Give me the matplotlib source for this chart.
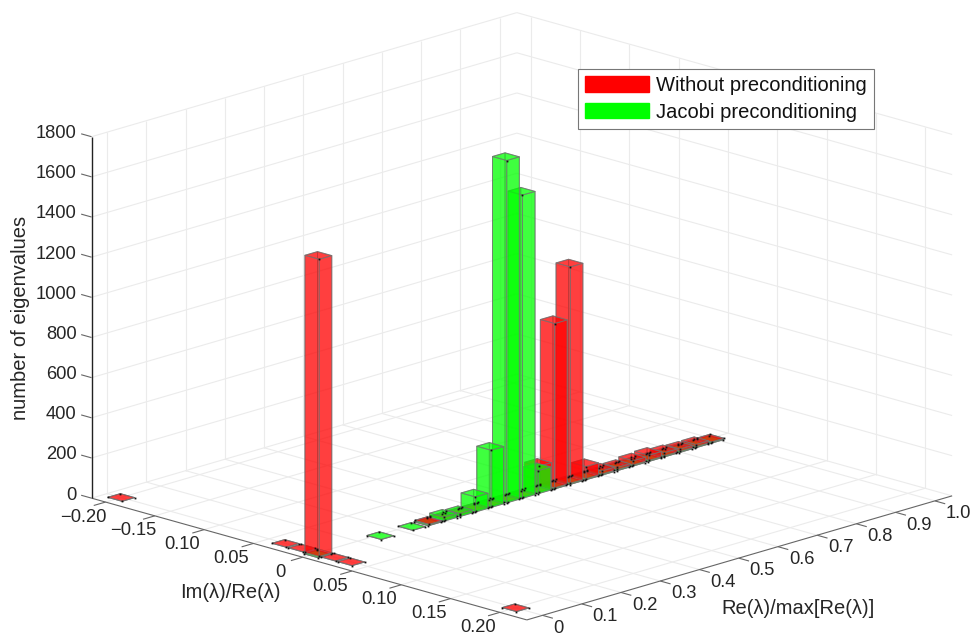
import matplotlib
matplotlib.use("Agg")
import matplotlib.pyplot as plt
from matplotlib.patches import Patch
from mpl_toolkits.mplot3d import proj3d

plt.rcParams["font.family"] = ["Liberation Sans", "DejaVu Sans"]

# histogram bins: Re(lambda)/max, Im(lambda)/Re(lambda), count
red_re = [0.0, 0.0, 0.0, 0.0, 0.0, 0.0, 0.0,
          0.28, 0.32, 0.36, 0.40, 0.44, 0.48, 0.52, 0.56, 0.60, 0.64, 0.68,
          0.72, 0.76, 0.80, 0.84, 0.88, 0.92, 0.96, 1.0]
red_im = [-0.2, -0.0333, -0.0167, 0, 0.0167, 0.0333, 0.2,
          0, 0, 0, 0, 0, 0, 0, 0, 0, 0, 0, 0, 0, 0, 0, 0, 0, 0, 0]
red_n = [0, 0, 0, 1480, 0, 0, 0,
         0, 0, 0, 0, 0, 0, 0, 130, 818, 1077, 60,
         15, 10, 20, 25, 15, 10, 10, 0]

green_re = [-0.007, 0.153, 0.233, 0.273, 0.313, 0.353, 0.393, 0.433, 0.473, 0.513, 0.553,
            0.593, 0.633, 0.673, 0.713, 0.753, 0.793, 0.833, 0.873, 0.913, 0.953, 0.993]
green_im = [0.002, 0.002, 0.002, 0.002, 0.002, 0.002, 0.002, 0.002, 0.002, 0.002, 0.002,
            0.002, 0.002, 0.002, 0.002, 0.002, 0.002, 0.002, 0.002, 0.002, 0.002, 0.002]
green_n = [0, 0, 0, 0, 20, 15, 75, 285, 1705, 1510, 115,
           0, 0, 0, 0, 0, 0, 0, 0, 0, 0, 0]

re_ticks = [0, 0.1, 0.2, 0.3, 0.4, 0.5, 0.6, 0.7, 0.8, 0.9, 1.0]
re_labels = ["0", "0.1", "0.2", "0.3", "0.4", "0.5", "0.6", "0.7", "0.8", "0.9", "1.0"]
im_ticks = [-0.20, -0.15, -0.10, -0.05, 0, 0.05, 0.10, 0.15, 0.20]
im_labels = ["\u22120.20", "\u22120.15", "0.10", "0.05", "0", "0.05", "0.10", "0.15", "0.20"]
z_ticks = [0, 200, 400, 600, 800, 1000, 1200, 1400, 1600, 1800]

XMIN, XMAX = -0.040, 1.044
YMIN, YMAX = -0.2142, 0.2274
ZMAX = 1800
BAR_X, BAR_Y = 0.032, 0.0145

GRID = "#ebebeb"
AXIS = "#666666"
TEXT = "#262626"
FS = 13.2

fig = plt.figure(figsize=(9.71, 6.33), dpi=100)
side = 912.2
ax = fig.add_axes([53.4 / 971, -151.7 / 633, side / 971, side / 633], projection="3d")
ax.set_proj_type("ortho")
ax.set_box_aspect((607.6, 609, 377))
ax.view_init(elev=16.6, azim=-135.6)
ax.computed_zorder = False
ax.set_axis_off()


def line(xs, ys, zs, color=GRID, lw=0.8, zorder=1):
    ax.plot(xs, ys, zs, color=color, lw=lw, zorder=zorder, solid_capstyle="butt")


def label(x, y, z, s, ha):
    px, py, _ = proj3d.proj_transform(x, y, z, ax.get_proj())
    ax.text2D(px, py, s, transform=ax.transData, ha=ha, va="center", fontsize=FS, color=TEXT)


# walls and floor grid
for z in z_ticks:
    line([XMIN, XMAX], [YMIN, YMIN], [z, z])
    line([XMAX, XMAX], [YMIN, YMAX], [z, z])
for x in re_ticks:
    line([x, x], [YMIN, YMIN], [0, ZMAX])
    line([x, x], [YMIN, YMAX], [0, 0])
for y in im_ticks:
    line([XMAX, XMAX], [y, y], [0, ZMAX])
    line([XMIN, XMAX], [y, y], [0, 0])

# axis lines and ticks
line([XMIN, XMAX], [YMAX, YMAX], [0, 0], AXIS, zorder=1.5)
line([XMIN, XMIN], [YMIN, YMAX], [0, 0], AXIS, zorder=1.5)
line([XMIN, XMIN], [YMIN, YMIN], [0, ZMAX], "#222222", 1.0, zorder=1.5)
for x in re_ticks:
    line([x, x], [YMAX, YMAX + 0.0105], [0, 0], AXIS, zorder=1.5)
for y in im_ticks:
    line([XMIN, XMIN - 0.03], [y, y], [0, 0], AXIS, zorder=1.5)
for z in z_ticks:
    line([XMIN, XMIN], [YMIN, YMIN - 0.0105], [z, z], AXIS, zorder=1.5)

# bars, painted from the back to the front
bars = [(x, y, n, (1, 0, 0, 0.5), 0.5) for x, y, n in zip(red_re, red_im, red_n)]
bars += [(x, y, n, (0, 1, 0, 0.5), 1 if n > 0 else 0) for x, y, n in zip(green_re, green_im, green_n)]
bars.sort(key=lambda b: (-round(b[0], 1) if b[0] < 0.02 else -round(b[0] / 0.04), round(b[1], 2), b[4]))

order = 2.0
dots_x, dots_y, dots_z = [], [], []
for x, y, n, color, _ in bars:
    ax.bar3d(x - BAR_X / 2, y - BAR_Y / 2, 0, BAR_X, BAR_Y, n, color=color, shade=False,
             edgecolor=(0.45, 0.45, 0.45, 0.7), linewidth=0.7, zorder=order)
    order += 0.01
    dots_x += [x - BAR_X / 2, x + BAR_X / 2, x - BAR_X / 2, x + BAR_X / 2]
    dots_y += [y - BAR_Y / 2, y - BAR_Y / 2, y + BAR_Y / 2, y + BAR_Y / 2]
    dots_z += [0, 0, 0, 0]
    if n > 0:
        dots_x.append(x - BAR_X / 2)
        dots_y.append(y + BAR_Y / 2)
        dots_z.append(n)
ax.plot(dots_x, dots_y, dots_z, ls="none", marker="s", ms=1.3, mew=0, color="#111111", zorder=4)

ax.set_xlim(XMIN, XMAX)
ax.set_ylim(YMAX, YMIN)
ax.set_zlim(0, ZMAX)
ax.set_xticks([])
ax.set_yticks([])
ax.set_zticks([])

# tick labels placed through the projection
for x, s in zip(re_ticks, re_labels):
    label(x, YMAX + 0.011, -48, s, "left")
for y, s in zip(im_ticks, im_labels):
    label(XMIN - 0.056, y, -43, s, "center")
for z in z_ticks:
    label(XMIN, YMIN - 0.015, z - 5, str(z), "right")

handles = [Patch(facecolor="#ff0000", edgecolor="#ff0000"), Patch(facecolor="#00ff00", edgecolor="#00ff00")]
leg = ax.legend(handles, ["Without preconditioning", "Jacobi preconditioning"],
                loc="upper left", bbox_to_anchor=(578 / 971, 1 - 69 / 633),
                bbox_transform=fig.transFigure, borderaxespad=0, fontsize=14.5,
                handlelength=3.18, handleheight=0.8, handletextpad=0.35, labelspacing=0.38,
                borderpad=0.35, fancybox=False, framealpha=1, edgecolor="#777777", labelcolor="#111111")
leg.get_frame().set_linewidth(0.8)
leg.set_zorder(5)

fig.text(21 / 971, 1 - 318 / 633, "number of eigenvalues", rotation=90, ha="center", va="center",
         fontsize=14.5, color=TEXT)
fig.text(230 / 971, 1 - 593 / 633, "Im(\u03bb)/Re(\u03bb)", ha="center", va="center", fontsize=14.5, color=TEXT)
fig.text(798 / 971, 1 - 608 / 633, "Re(\u03bb)/max[Re(\u03bb)]", ha="center", va="center", fontsize=14.5, color=TEXT)

fig.savefig("out.png", dpi=100)
